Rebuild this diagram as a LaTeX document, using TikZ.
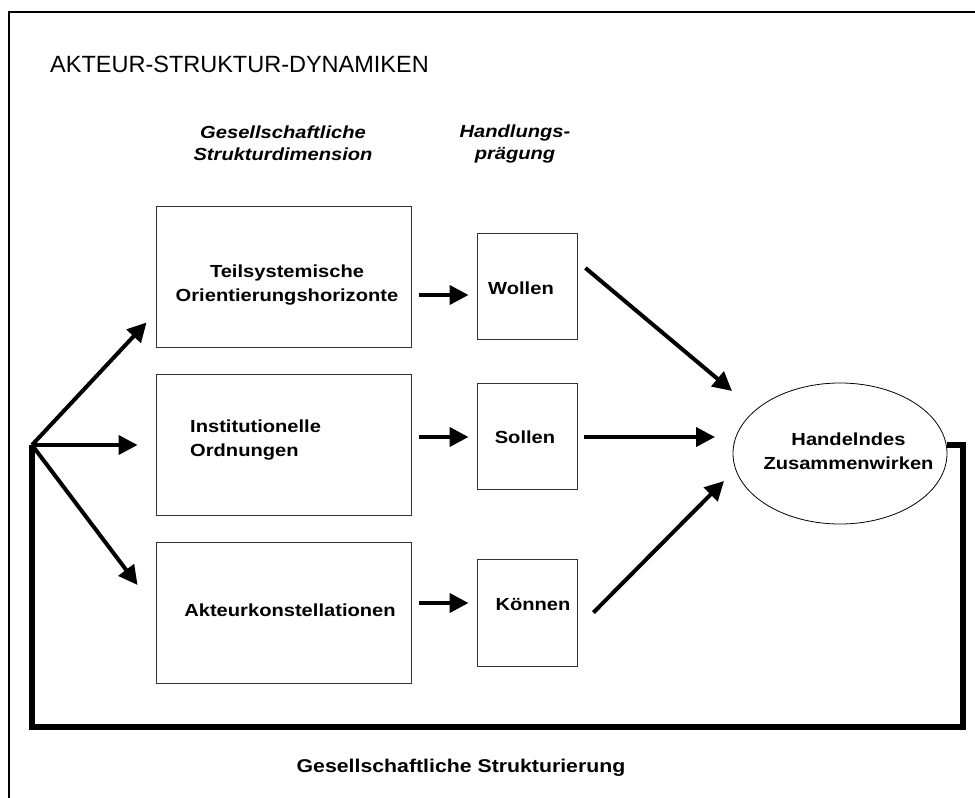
\documentclass[tikz,border=0pt]{standalone}
\usepackage{fontspec}
\setmainfont{Liberation Sans}
\newfontfamily\dimfont{Liberation Sans}[FakeStretch=1.15]
\usetikzlibrary{arrows.meta,shapes.geometric}
\begin{document}
\begin{tikzpicture}[x=1pt,y=-1pt,>={Triangle[length=19pt,width=19pt]},
	box/.style={draw=black!80,line width=0.9pt,inner sep=0pt},
	txt/.style={font=\dimfont\bfseries\fontsize{17.5}{24}\selectfont,align=center,inner sep=0pt},
	kopf/.style={font=\dimfont\bfseries\itshape\fontsize{17.5}{22}\selectfont,align=center,inner sep=0pt},
	arr/.style={->,line width=4pt},
	ring/.style={line width=6pt}]
	\useasboundingbox (0,0) rectangle (975,798);
	\draw[line width=1.3pt] (975,12)--(9,12)--(9,798);
	\node[anchor=base west,inner sep=0pt,font=\fontsize{23.5}{30}\selectfont] (titel) at (50,72) {AKTEUR-STRUKTUR-DYNAMIKEN};
	\node[kopf] (kopfdim) at (283,143) {Gesellschaftliche\\Strukturdimension};
	\node[kopf] (kopfhand) at (515,144) {Handlungs-\\prägung};
	% Strukturdimensionen
	\node[box,minimum width=255pt,minimum height=141pt] (teil) at (283.5,276.5) {};
	\node[box,minimum width=255pt,minimum height=141pt] (inst) at (283.5,444.5) {};
	\node[box,minimum width=255pt,minimum height=141pt] (akt) at (283.5,612.5) {};
	\node[txt] (teiltxt) at (287,285) {Teilsystemische\\Orientierungshorizonte};
	\node[txt,anchor=west,align=left] (insttxt) at (190,440) {Institutionelle\\Ordnungen};
	\node[txt] (akttxt) at (290,610) {Akteurkonstellationen};
	% Handlungspraegung
	\node[box,minimum width=100pt,minimum height=106pt] (wollen) at (527,286) {};
	\node[box,minimum width=100pt,minimum height=106pt] (sollen) at (527,436) {};
	\node[box,minimum width=100pt,minimum height=107pt] (koennen) at (527,612.5) {};
	\node[txt] (wollentxt) at (521,288) {Wollen};
	\node[txt] (sollentxt) at (525,437) {Sollen};
	\node[txt] (koennentxt) at (533,605) {Können};
	\node[draw,ellipse,line width=0.8pt,minimum width=214pt,minimum height=141pt,inner sep=0pt] (handeln) at (840,453.5) {};
	\node[txt] (handelntxt) at (848.5,451.5) {Handelndes\\Zusammenwirken};
	\coordinate (fan) at (32,445);
	\coordinate (unten) at (963,727);
	\draw[arr] (fan)--([shift={(-9,-25)}]teil.south west);
	\draw[arr] (fan)--([shift={(-18,0.5)}]inst.west);
	\draw[arr] (fan)--([shift={(-18,-27.5)}]akt.west);
	\draw[arr] ([shift={(8,18.5)}]teil.east)--([shift={(-8,9)}]wollen.west);
	\draw[arr] ([shift={(8,-7.5)}]inst.east)--([shift={(-8,1)}]sollen.west);
	\draw[arr] ([shift={(8,-9.5)}]akt.east)--([shift={(-8,-9.5)}]koennen.west);
	\draw[arr] ([shift={(8,-18)}]wollen.east)--([shift={(-108,-62.5)}]handeln.center);
	\draw[arr] ([shift={(7,1)}]sollen.east)--([shift={(-125,-16.5)}]handeln.center);
	\draw[arr] ([shift={(16,0)}]koennen.east)--([shift={(-116,27.5)}]handeln.center);
	% Rueckkopplung
	\draw[ring] ([shift={(0,-8.5)}]handeln.east) -| (unten) -| (fan);
	\node[txt,font=\dimfont\bfseries\fontsize{18.5}{24}\selectfont] (struktxt) at (461,768) {Gesellschaftliche Strukturierung};
\end{tikzpicture}
\end{document}
